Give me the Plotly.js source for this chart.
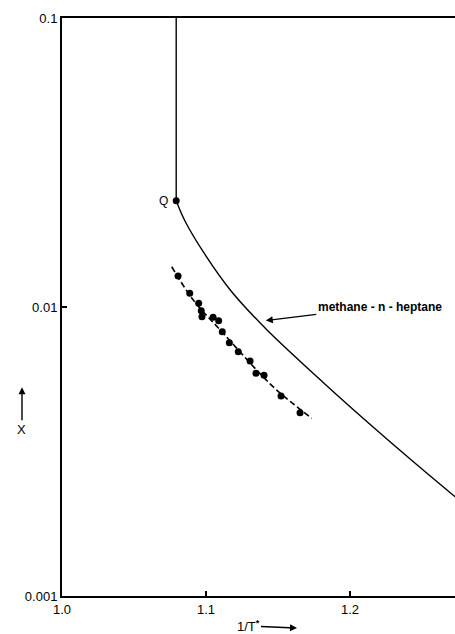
<!DOCTYPE html>
<html>
<head>
<meta charset="utf-8">
<script src="https://cdn.plot.ly/plotly-3.0.1.min.js"></script>
<style>html,body{margin:0;padding:0;background:#fff;}#chart{width:455px;height:634px;}</style>
</head>
<body>
<div id="chart"></div>
<script>
// Vertical line above point Q
const vertX = [1.0793, 1.0793];
const vertY = [0.1, 0.02332];
// Point Q
const qX = [1.0793];
const qY = [0.02332];
// methane - n - heptane curve
const curveX = [1.0793, 1.0854, 1.0986, 1.1174, 1.1417, 1.1757, 1.1979, 1.2208, 1.2438, 1.2717, 1.2800];
const curveY = [0.02332, 0.01984, 0.01538, 0.01136, 0.008393, 0.005818, 0.004617, 0.003664, 0.00292, 0.002233, 0.002063];
// Experimental points
const dotX = [1.0806, 1.0887, 1.0949, 1.0967, 1.0972, 1.1049, 1.1088, 1.1113, 1.1162, 1.1224, 1.1306, 1.1347, 1.1403, 1.1521, 1.1653];
const dotY = [0.01280, 0.01115, 0.01030, 0.00971, 0.00926, 0.00921, 0.00897, 0.00821, 0.00752, 0.00700, 0.00650, 0.00590, 0.00580, 0.00492, 0.00431];
// Dashed fit through the points
const fitX = [1.0762, 1.0912, 1.1120, 1.1352, 1.1491, 1.1734];
const fitY = [0.01378, 0.01057, 0.00811, 0.00605, 0.00516, 0.00412];
// Axis ticks
const xTickVals = [1.0, 1.1, 1.2];
const xTickText = ["1.0", "1.1", "1.2"];
const yTickVals = [0.001, 0.01, 0.1];
const yTickText = ["0.001", "0.01", "0.1"];

const F = "Liberation Sans, Arial, sans-serif";

const traces = [
  {x: vertX, y: vertY, mode: "lines", line: {color: "#000", width: 1.4}, hoverinfo: "skip"},
  {x: curveX, y: curveY, mode: "lines", line: {color: "#000", width: 1.4, shape: "spline", smoothing: 1}, hoverinfo: "skip"},
  {x: fitX, y: fitY, mode: "lines", line: {color: "#000", width: 1.6, dash: "6px,3px", shape: "spline", smoothing: 1}, hoverinfo: "skip"},
  {x: dotX, y: dotY, mode: "markers", marker: {color: "#000", size: 7}, hoverinfo: "skip"},
  {x: qX, y: qY, mode: "markers", marker: {color: "#000", size: 7}, hoverinfo: "skip"}
];

const layout = {
  width: 455, height: 634,
  margin: {l: 62, r: 0, t: 18, b: 38},
  paper_bgcolor: "#fff", plot_bgcolor: "#fff",
  showlegend: false,
  font: {family: F, color: "#000", size: 13},
  xaxis: {
    range: [1.0, 1.2729],
    tickvals: xTickVals, ticktext: xTickText,
    ticks: "inside", ticklen: 5, tickwidth: 1.2, tickcolor: "#000",
    showline: true, linewidth: 2, linecolor: "#000", mirror: true,
    showgrid: false, zeroline: false,
    tickfont: {family: F, size: 13, color: "#000"}
  },
  yaxis: {
    type: "log", range: [-3, -1],
    tickvals: yTickVals, ticktext: yTickText,
    ticks: "inside", ticklen: 5, tickwidth: 1.2, tickcolor: "#000",
    showline: true, linewidth: 2, linecolor: "#000",
    showgrid: false, zeroline: false,
    tickfont: {family: F, size: 13, color: "#000"}
  },
  annotations: [
    {x: 1.0793, y: Math.log10(0.02332), xref: "x", yref: "y", text: "Q", showarrow: false,
     xanchor: "right", yanchor: "middle", xshift: -6, font: {family: F, size: 12, color: "#000"}},
    {x: 1.1415, y: -2.047, xref: "x", yref: "y", text: "<b>methane - n - heptane</b>", showarrow: true,
     ax: 114, ay: -14, arrowhead: 2, arrowsize: 1, arrowwidth: 1.4, arrowcolor: "#000", standoff: 0,
     font: {family: F, size: 12, color: "#000"}},
    {x: -0.1018, y: 0.3611, xref: "paper", yref: "paper", text: "X", showarrow: true,
     ax: 0, ay: 42, arrowhead: 2, arrowsize: 1, arrowwidth: 1.4, arrowcolor: "#000", standoff: 0,
     font: {family: F, size: 13, color: "#000"}},
    {x: 0.598, y: -0.0554, xref: "paper", yref: "paper", text: "1/T<sup><b>*</b></sup>", showarrow: true,
     ax: -49, ay: -2, arrowhead: 2, arrowsize: 1, arrowwidth: 1.4, arrowcolor: "#000", standoff: 0,
     font: {family: F, size: 13, color: "#000"}}
  ]
};

Plotly.newPlot("chart", traces, layout, {displayModeBar: false, staticPlot: true});
</script>
</body>
</html>
